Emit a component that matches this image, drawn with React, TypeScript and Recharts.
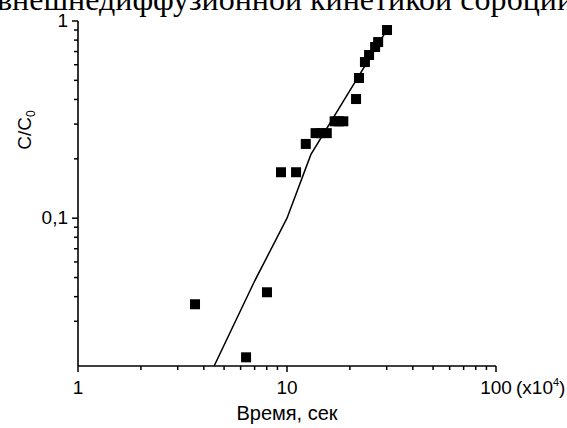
import React from "react";
import { ComposedChart, Scatter, XAxis, YAxis, ZAxis } from "recharts";

// measured points (time x10^4 s, C/C0)
const measTime = [3.63, 6.37, 8.02, 9.36, 11.05, 12.3, 13.7, 14.5, 15.5, 16.9, 17.7, 18.6, 21.4, 22.1, 23.6, 24.7, 26.4, 27.3, 30.1];
const measConc = [0.0366, 0.0197, 0.0421, 0.171, 0.171, 0.238, 0.27, 0.27, 0.27, 0.31, 0.31, 0.31, 0.402, 0.514, 0.619, 0.672, 0.738, 0.782, 0.9];

// model curve
const fitTime = [4.48, 7, 10, 13, 30];
const fitConc = [0.0178, 0.048, 0.1, 0.21, 0.9];

const xTicks = [1, 2, 3, 4, 5, 6, 7, 8, 9, 10, 20, 30, 40, 50, 60, 70, 80, 90, 100];
const yTicks = [0.03, 0.04, 0.05, 0.06, 0.07, 0.08, 0.09, 0.1, 0.2, 0.3, 0.4, 0.5, 0.6, 0.7, 0.8, 0.9, 1];
const xMajor = [1, 10, 100];
const yMajor = [0.1, 1];

const measData = measTime.map((t, i) => ({ t, c: measConc[i] }));
const fitData = fitTime.map((t, i) => ({ t, c: fitConc[i] }));

const font = "'Liberation Sans Narrow', 'Arial Narrow', 'Liberation Sans', Arial, sans-serif";

const XTick = (props: any) => {
  const { x, y, payload } = props;
  const v = payload.value;
  const major = xMajor.includes(v);
  return (
    <g>
      <line x1={x} x2={x} y1={y} y2={y + (major ? 6 : 4)} stroke="#000" strokeWidth={1.5} />
      {major && (
        <text x={x} y={y + 28} textAnchor="middle" fontSize={19} fontFamily={font} fill="#000">
          {v}
        </text>
      )}
      {v === 100 && (
        <text x={x + 20} y={y + 28} textAnchor="start" fontSize={19} fontFamily={font} fill="#000">
          (x10<tspan dy={-8} fontSize={11}>4</tspan>
          <tspan dy={8}>)</tspan>
        </text>
      )}
    </g>
  );
};

const YTick = (props: any) => {
  const { x, y, payload } = props;
  const v = payload.value;
  const major = yMajor.includes(v);
  return (
    <g>
      <line x1={x - (major ? 6 : 4)} x2={x} y1={y} y2={y} stroke="#000" strokeWidth={1.5} />
      {major && (
        <text x={x - 10} y={y + 1} textAnchor="end" dominantBaseline="middle" fontSize={19} fontFamily={font} fill="#000">
          {String(v).replace(".", ",")}
        </text>
      )}
    </g>
  );
};

const Square = (props: any) => {
  const { cx, cy } = props;
  return <rect x={cx - 5} y={cy - 5} width={10} height={10} fill="#000" />;
};

export default function App() {
  return (
    <div style={{ position: "absolute", left: 0, top: 0, width: 567, height: 428, overflow: "hidden", background: "#fff" }}>
      <div
        style={{
          position: "absolute",
          left: -3,
          top: -17,
          fontFamily: "'Liberation Serif', 'Times New Roman', serif",
          fontSize: 32,
          lineHeight: "32px",
          whiteSpace: "nowrap",
          color: "#000",
        }}
      >
        внешнедиффузионной кинетикой сорбции
      </div>
      <ComposedChart width={567} height={428} margin={{ top: 21, right: 71, bottom: 0, left: 0 }} style={{ position: "absolute", left: 0, top: 0 }}>
        <XAxis
          dataKey="t"
          type="number"
          scale="log"
          domain={[1, 100]}
          ticks={xTicks}
          interval={0}
          allowDataOverflow
          height={62}
          tickSize={0}
          tickMargin={0}
          tick={<XTick />}
          axisLine={{ stroke: "#000", strokeWidth: 1.6 }}
        />
        <YAxis
          dataKey="c"
          type="number"
          scale="log"
          domain={[0.0178, 1]}
          ticks={yTicks}
          interval={0}
          allowDataOverflow
          width={78}
          tickSize={0}
          tickMargin={0}
          tick={<YTick />}
          axisLine={{ stroke: "#000", strokeWidth: 1.6 }}
        />
        <ZAxis range={[100, 100]} />
        <Scatter data={fitData} line={{ stroke: "#000", strokeWidth: 1.5 }} lineType="joint" shape={() => <g />} isAnimationActive={false} />
        <Scatter data={measData} shape={<Square />} isAnimationActive={false} />
        <text x={287} y={420} textAnchor="middle" fontSize={20} fontFamily={font} fill="#000">
          Время, сек
        </text>
        <text x={0} y={0} transform="translate(31,130) rotate(-90)" textAnchor="middle" fontSize={19} fontFamily={font} fill="#000">
          C/C<tspan dy={4} fontSize={12}>0</tspan>
        </text>
      </ComposedChart>
    </div>
  );
}
